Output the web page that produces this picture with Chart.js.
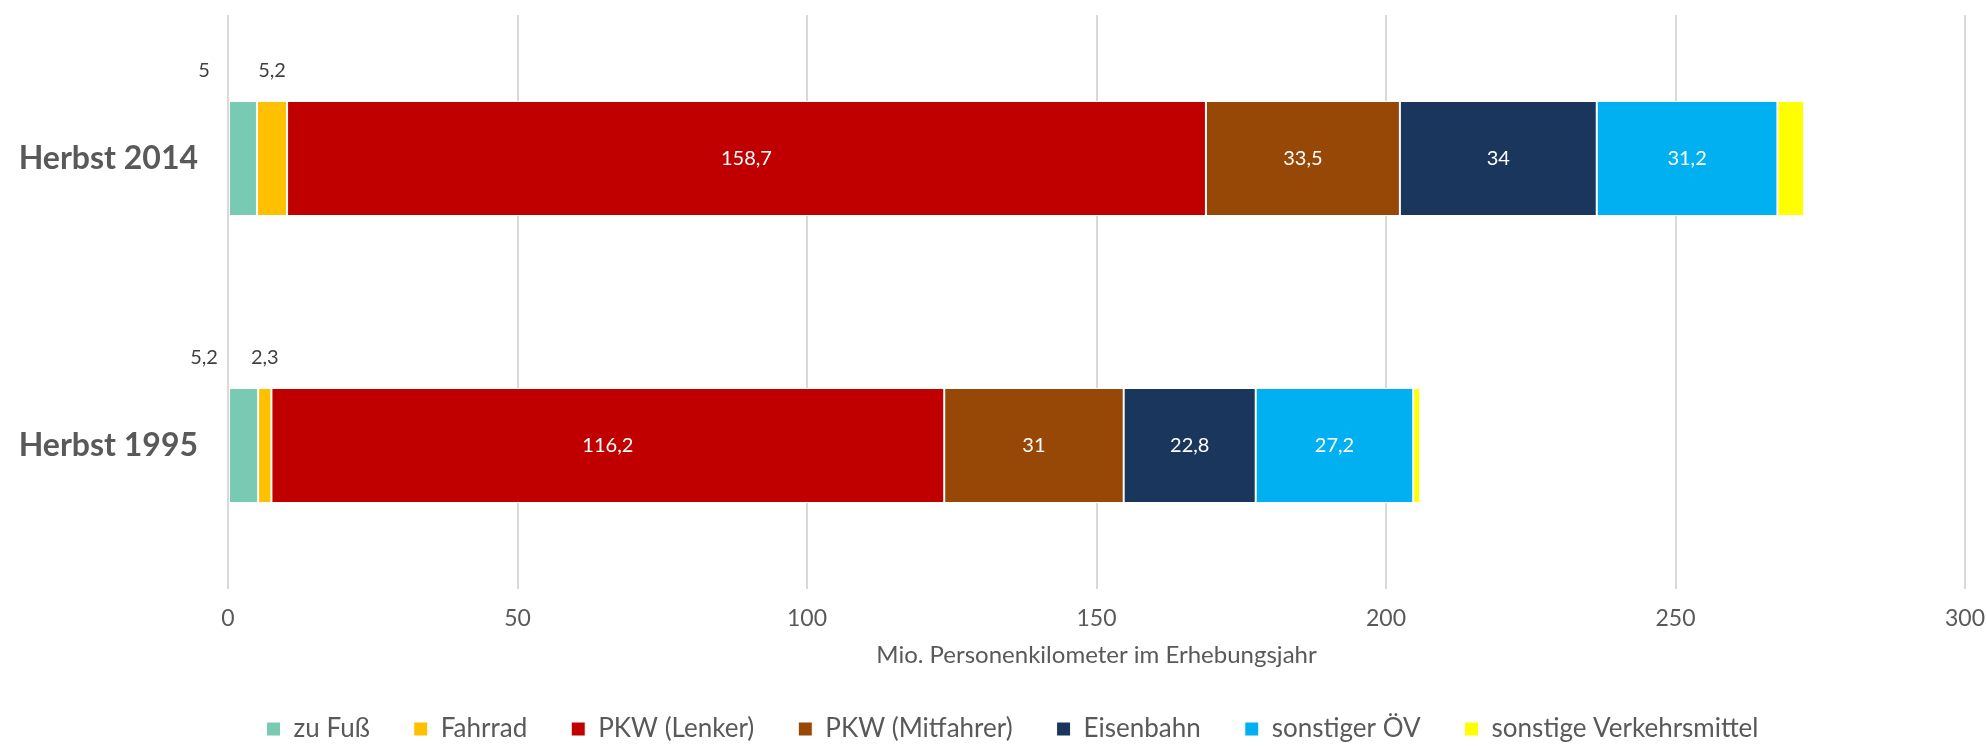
<!DOCTYPE html>
<html>
<head>
<meta charset="utf-8">
<script src="https://cdn.jsdelivr.net/npm/chart.js@4.4.0/dist/chart.umd.min.js"></script>
<style>
  html, body { margin: 0; padding: 0; background: #fff; }
  #wrap { width: 1986px; height: 746px; position: relative; }
</style>
</head>
<body>
<div id="wrap"><canvas id="chart"></canvas></div>
<script>
// data
const categories = ['Herbst 2014', 'Herbst 1995'];
const seriesNames = ['zu Fuß', 'Fahrrad', 'PKW (Lenker)', 'PKW (Mitfahrer)', 'Eisenbahn', 'sonstiger ÖV', 'sonstige Verkehrsmittel'];
const zuFuss = [5, 5.2];
const fahrrad = [5.2, 2.3];
const pkwLenker = [158.7, 116.2];
const pkwMitfahrer = [33.5, 31];
const eisenbahn = [34, 22.8];
const sonstigerOeV = [31.2, 27.2];
const sonstigeVm = [4.6, 1.2];
const seriesColors = ['#79CAB2', '#FFC000', '#C00000', '#974706', '#1B365D', '#00B0F0', '#FFFF00'];
const xTicks = [0, 50, 100, 150, 200, 250, 300];
const axisTitle = 'Mio. Personenkilometer im Erhebungsjahr';

const FONT = 'Lato, "Open Sans", sans-serif';
const TEXT = '#595959';

const fmt = v => String(v).replace('.', ',');

// value labels: the two small segments get theirs above the bar, the last series none
const labelPlugin = {
  id: 'segLabels',
  afterLayout(chart) {
    // legend sits a little right of the canvas centre in the original
    chart.legend.left += 30;
    chart.legend.right += 30;
  },
  afterDatasetsDraw(chart) {
    const c = chart.ctx;
    c.save();
    c.font = '20px ' + FONT;
    c.textBaseline = 'middle';
    c.textAlign = 'center';
    chart.data.datasets.forEach((ds, di) => {
      if (di === 6) return;
      const meta = chart.getDatasetMeta(di);
      meta.data.forEach((bar, i) => {
        const v = ds.data[i];
        const top = bar.y - bar.height / 2;
        if (di === 0) {
          c.fillStyle = '#404040';
          c.fillText(fmt(v), bar.base - 25, top - 31);
        } else if (di === 1) {
          c.fillStyle = '#404040';
          c.fillText(fmt(v), (bar.x + bar.base) / 2, top - 31);
        } else {
          c.fillStyle = '#FFFFFF';
          c.fillText(fmt(v), (bar.x + bar.base) / 2, bar.y);
        }
      });
    });
    c.restore();
  }
};

const seriesData = [zuFuss, fahrrad, pkwLenker, pkwMitfahrer, eisenbahn, sonstigerOeV, sonstigeVm];

new Chart(document.getElementById('chart'), {
  type: 'bar',
  data: {
    labels: categories,
    datasets: seriesNames.map((name, i) => ({
      label: name,
      data: seriesData[i],
      backgroundColor: seriesColors[i],
      borderColor: '#FFFFFF',
      borderWidth: 1,
      borderSkipped: false,
      categoryPercentage: 0.4,
      barPercentage: 1
    }))
  },
  options: {
    indexAxis: 'y',
    responsive: true,
    maintainAspectRatio: false,
    animation: false,
    layout: { padding: { top: 15, right: 21, left: 0, bottom: -6 } },
    scales: {
      x: {
        stacked: true,
        min: 0,
        max: 300,
        afterBuildTicks: s => { s.ticks = xTicks.map(v => ({ value: v })); },
        grid: { color: '#D9D9D9', lineWidth: 2, drawTicks: false },
        border: { display: false },
        ticks: { color: TEXT, font: { family: FONT, size: 23 }, padding: 16 },
        title: {
          display: true,
          text: axisTitle,
          color: TEXT,
          font: { family: FONT, size: 24 },
          padding: { top: 0, bottom: 2 }
        },
        afterFit: s => { s.height = 83; s.paddingLeft = 0; s.paddingRight = 0; }
      },
      y: {
        stacked: true,
        grid: { display: false },
        border: { display: false },
        ticks: { color: TEXT, font: { family: FONT, size: 32, weight: 'bold' }, padding: 22 },
        afterFit: s => { s.width = 228; s.paddingTop = 0; s.paddingBottom = 0; }
      }
    },
    plugins: {
      legend: {
        position: 'bottom',
        labels: {
          color: TEXT,
          font: { family: FONT, size: 26 },
          boxWidth: 14,
          boxHeight: 14,
          padding: 44
        }
      },
      tooltip: { enabled: false }
    }
  },
  plugins: [labelPlugin]
});
</script>
</body>
</html>
